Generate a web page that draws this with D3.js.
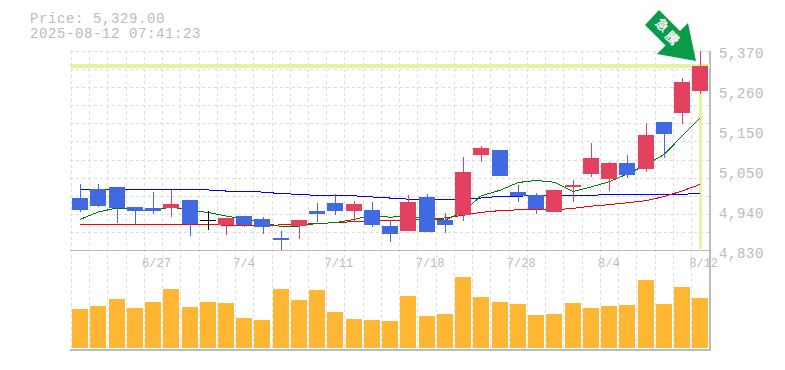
<!DOCTYPE html>
<html>
<head>
<meta charset="utf-8">
<script src="https://cdn.jsdelivr.net/npm/d3@7"></script>
<style>
html, body { margin: 0; padding: 0; background: #fff; }
svg { display: block; }
text { font-family: "Liberation Mono", monospace; fill: #bbb; }
</style>
</head>
<body>
<div id="chart"></div>
<script>
const dates = ['6/23','6/24','6/25','6/26','6/27','6/30','7/1','7/2','7/3','7/4','7/7','7/8','7/9','7/10','7/11','7/14','7/15','7/16','7/17','7/18','7/22','7/23','7/24','7/25','7/28','7/29','7/30','7/31','8/1','8/4','8/5','8/6','8/7','8/8','8/12']
const labelledDates = ['6/27','7/4','7/11','7/18','7/28','8/4','8/12']
const priceTicks = [5370, 5260, 5150, 5050, 4940, 4830]

const open  = [4971,4996,5001,4947,4944,4944,4966,4911,4898,4922,4914,4863,4895,4936,4958,4936,4939,4895,4882,4974,4911,4925,5088,5101,4987,4979,4933,5001,5036,5023,5066,5050,5177,5202,5261]
const high  = [5009,5009,5001,4947,4987,4993,4966,4936,4917,4922,4920,4882,4911,4958,4982,4963,4960,4911,4979,4982,4930,5082,5112,5101,5006,4985,4993,5020,5120,5069,5088,5175,5177,5297,5370]
const low   = [4933,4947,4903,4901,4928,4920,4868,4884,4871,4892,4873,4830,4860,4906,4925,4906,4892,4852,4882,4879,4876,4909,5069,5031,4960,4928,4933,4960,5028,4990,5025,5042,5080,5172,5253]
const close = [4939,4949,4944,4936,4936,4955,4901,4911,4917,4898,4892,4857,4911,4928,4936,4955,4898,4873,4960,4879,4898,5042,5107,5031,4977,4941,4993,5006,5080,5066,5034,5142,5145,5286,5329]

const maShort = [4913,4933,4944,4939,4937,4947,4937,4932,4922,4914,4904,4894,4895,4902,4904,4913,4924,4919,4922,4916,4911,4933,4977,4992,5013,5019,5014,4989,5001,5015,5036,5061,5089,5139,5188]
const maMid   = [4900,4900,4900,4900,4900,4900,4900,4900,4897,4897,4897,4898,4899,4902,4904,4907,4910,4911,4911,4913,4917,4924,4932,4937,4939,4939,4939,4943,4949,4953,4958,4964,4975,4990,5008]
const maLong  = [4993,4993,4993,4993,4993,4993,4993,4993,4990,4990,4987,4983,4981,4978,4978,4977,4974,4971,4968,4968,4968,4968,4971,4976,4976,4978,4978,4978,4978,4981,4981,4981,4981,4981,4984]

const volume = [39,42,49,40,46,59,41,46,45,30,28,59,48,58,36,29,28,27,52,32,34,71,51,46,44,33,34,45,40,42,43,68,44,61,50]

const lastPrice = 5329
const headerLines = ['Price: 5,329.00', '2025-08-12 07:41:23']
const badgeChars = ['急', '騰']

const width = 785, height = 370
const plot = {left: 70, right: 710, top: 51, bottom: 250, volBottom: 350}

const svg = d3.select('#chart').append('svg')
    .attr('width', width)
    .attr('height', height)

const xScale = d3.scaleBand()
    .domain(dates)
    .range([plot.left + 1, plot.right - 0.6])
    .paddingInner(0.12)
    .paddingOuter(0.06)
const xCenter = d => Math.round(xScale(d) + xScale.bandwidth() / 2)
const barLeft = d => Math.round(xScale(d))
const barWidth = Math.round(xScale.bandwidth())

const yScale = d3.scaleLinear().domain([4830, 5370]).range([plot.bottom, plot.top])
const volScale = d3.scaleLinear().domain([0, 100]).range([348, 248])

// Dashed grid: one vertical per trading day, 11 equal rows over the price panel
const grid = svg.append('g')
    .attr('stroke', '#ddd')
    .attr('stroke-dasharray', '3,3')
    .attr('shape-rendering', 'crispEdges')
grid.selectAll('.v').data(dates).join('line')
    .attr('class', 'v')
    .attr('x1', d => Math.round(xScale(d) - 1.2) + 0.5)
    .attr('x2', d => Math.round(xScale(d) - 1.2) + 0.5)
    .attr('y1', plot.top)
    .attr('y2', plot.volBottom)
grid.selectAll('.h').data(d3.range(11)).join('line')
    .attr('class', 'h')
    .attr('x1', plot.left)
    .attr('x2', plot.right)
    .attr('y1', d => Math.round(plot.top + d * (plot.bottom - plot.top) / 11) + 0.5)
    .attr('y2', d => Math.round(plot.top + d * (plot.bottom - plot.top) / 11) + 0.5)

// Frame
const frame = svg.append('g')
    .attr('stroke', '#bbb')
    .attr('shape-rendering', 'crispEdges')
frame.append('line').attr('x1', plot.left).attr('x2', plot.right)
    .attr('y1', plot.bottom + 0.5).attr('y2', plot.bottom + 0.5)
frame.append('line').attr('x1', plot.left).attr('x2', plot.right)
    .attr('y1', plot.volBottom).attr('y2', plot.volBottom).attr('stroke-width', 2)
frame.append('line').attr('x1', plot.right).attr('x2', plot.right)
    .attr('y1', plot.top).attr('y2', plot.volBottom + 1).attr('stroke-width', 2)

// Last price cross-hair
const cross = svg.append('g')
    .attr('stroke', '#e2f4a0')
    .attr('shape-rendering', 'crispEdges')
cross.append('line').attr('x1', plot.left).attr('x2', plot.right)
    .attr('y1', yScale(lastPrice)).attr('y2', yScale(lastPrice))
    .attr('stroke-width', 4)
cross.append('line')
    .attr('x1', xCenter(dates[34]) + 0.5).attr('x2', xCenter(dates[34]) + 0.5)
    .attr('y1', yScale(lastPrice)).attr('y2', plot.bottom - 1)
    .attr('stroke-width', 3)

// Moving averages, under the candles
const line = d3.line().x(d => d.x).y(d => yScale(d.v))
const maSeries = [
    {values: maLong, color: '#0000ff'},
    {values: maMid, color: '#ff0000'},
    {values: maShort, color: '#008000'},
]
maSeries.forEach(ma => {
    svg.append('path')
        .datum(ma.values.map((v, i) => ({x: xCenter(dates[i]), v})))
        .attr('fill', 'none')
        .attr('stroke', ma.color)
        .attr('stroke-width', 1)
        .attr('shape-rendering', 'crispEdges')
        .attr('d', line)
})

// Candles
const candleColor = i => close[i] > open[i] ? '#e24260' : close[i] < open[i] ? '#4169e1' : '#000'
const candles = svg.append('g').attr('shape-rendering', 'crispEdges')
    .selectAll('g').data(dates).join('g')
candles.append('line')
    .attr('x1', d => xCenter(d) + 0.5)
    .attr('x2', d => xCenter(d) + 0.5)
    .attr('y1', (d, i) => yScale(high[i]))
    .attr('y2', (d, i) => yScale(low[i]))
    .attr('stroke', (d, i) => candleColor(i))
candles.append('rect')
    .attr('x', d => barLeft(d))
    .attr('width', barWidth)
    .attr('y', (d, i) => yScale(Math.max(open[i], close[i])))
    .attr('height', (d, i) => Math.max(1, Math.abs(yScale(open[i]) - yScale(close[i]))))
    .attr('fill', (d, i) => candleColor(i))

// Volume
svg.append('g').attr('shape-rendering', 'crispEdges')
    .selectAll('rect').data(dates).join('rect')
    .attr('x', d => barLeft(d))
    .attr('width', barWidth)
    .attr('y', (d, i) => volScale(volume[i]))
    .attr('height', (d, i) => volScale(0) - volScale(volume[i]))
    .attr('fill', '#ffb733')

// Axis labels
svg.append('g').selectAll('text').data(priceTicks).join('text')
    .attr('x', 719)
    .attr('y', (d, i) => 58 + i * 40)
    .attr('font-size', 14)
    .attr('letter-spacing', 0.6)
    .text(d => d3.format(',')(d))
svg.append('g').selectAll('text').data(labelledDates).join('text')
    .attr('x', d => xScale(d) - 3)
    .attr('y', 267)
    .attr('font-size', 12)
    .text(d => d)

// Header
svg.append('g').selectAll('text').data(headerLines).join('text')
    .attr('x', 30)
    .attr('y', (d, i) => 23 + i * 15)
    .attr('font-size', 14)
    .attr('letter-spacing', 0.6)
    .text(d => d)

// Arrow badge, tip touching the last candle
const arrow = svg.append('g').attr('transform', 'translate(696,61)')
arrow.append('path')
    .attr('d', 'M0,0L-39,-7L-8,-38Z M-37,-51L-51,-36L-30.5,-15.5L-16,-30Z')
    .attr('fill', '#0a9a48')
svg.append('g').selectAll('text').data(badgeChars).join('text')
    .attr('transform', (d, i) => `translate(${662 + i * 10},${25 + i * 13}) rotate(45)`)
    .attr('text-anchor', 'middle')
    .attr('dy', '0.35em')
    .attr('font-size', 13)
    .style('font-family', '"Noto Sans CJK JP"')
    .style('font-weight', 'bold')
    .style('fill', '#fff')
    .text(d => d)
</script>
</body>
</html>
